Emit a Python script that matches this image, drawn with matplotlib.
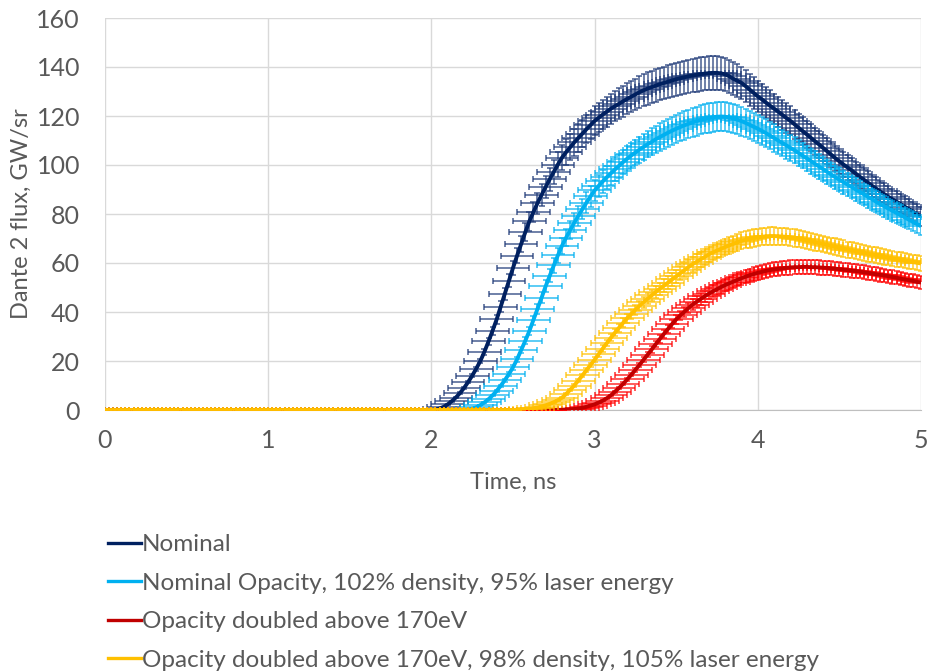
import numpy as np
import matplotlib

matplotlib.use('Agg')
import matplotlib.pyplot as plt
from matplotlib.lines import Line2D

plt.rcParams['font.family'] = ['Lato', 'DejaVu Sans']

# time grid of the simulation output, ns
time = np.round(np.arange(201) * 0.025, 3)

# Dante 2 flux, GW/sr (0.025 ns steps)
nominal = [0.0] * 80 + [
    0.0, 0.2, 0.6, 1.3, 2.3, 3.6, 5.1, 6.9, 9.0, 11.4, 14.0, 16.9,
    20.0, 23.8, 28.0, 32.4, 37.0, 42.2, 47.4, 52.7, 58.0, 63.0, 67.8, 72.5,
    77.0, 80.8, 84.4, 87.8, 91.0, 94.2, 97.2, 100.2, 103.0, 105.2, 107.2, 109.2,
    111.0, 112.8, 114.6, 116.3, 118.0, 119.3, 120.6, 121.8, 123.0, 124.0, 125.0, 126.0,
    127.0, 127.9, 128.8, 129.7, 130.5, 131.2, 131.8, 132.4, 133.0, 133.5, 134.0, 134.5,
    135.0, 135.4, 135.8, 136.2, 136.5, 136.8, 137.1, 137.3, 137.5, 137.6, 137.6, 137.4,
    137.0, 136.2, 135.2, 134.4, 133.5, 132.2, 130.8, 129.4, 128.0, 126.8, 125.5, 124.2,
    123.0, 121.8, 120.5, 119.2, 118.0, 116.6, 115.2, 113.8, 112.5, 111.1, 109.7, 108.4,
    107.0, 105.6, 104.2, 102.8, 101.5, 100.2, 99.0, 97.8, 96.5, 95.2, 94.0, 92.8,
    91.5, 90.4, 89.2, 88.1, 87.0, 86.0, 85.0, 84.0, 83.0, 82.0, 81.0, 80.0, 79.0]

nominal_opacity = [0.0] * 88 + [
    0.0, 0.2, 0.5, 1.1, 2.0, 3.1, 4.4, 6.0, 7.8, 9.9, 12.2, 14.7,
    17.4, 20.7, 24.4, 28.2, 32.2, 36.7, 41.2, 45.8, 50.5, 54.8, 59.0, 63.1,
    67.0, 70.3, 73.4, 76.4, 79.2, 82.0, 84.6, 87.2, 89.6, 91.5, 93.3, 95.0,
    96.6, 98.2, 99.7, 101.2, 102.6, 103.9, 105.1, 106.3, 107.4, 108.5, 109.5, 110.5,
    111.4, 112.3, 113.2, 114.0, 114.8, 115.5, 116.2, 116.8, 117.4, 117.9, 118.4, 118.8,
    119.2, 119.5, 119.7, 119.8, 119.7, 119.4, 119.0, 118.5, 117.9, 117.2, 116.4, 115.6,
    114.8, 113.9, 113.0, 112.0, 111.0, 110.0, 109.0, 108.0, 107.0, 106.0, 104.9, 103.8,
    102.7, 101.6, 100.5, 99.4, 98.3, 97.2, 96.1, 95.0, 94.0, 93.0, 92.0, 91.0,
    90.0, 89.0, 88.0, 87.0, 86.0, 85.0, 84.0, 83.1, 82.2, 81.3, 80.4, 79.5,
    78.6, 77.7, 76.8, 75.9, 75.0]

opacity_doubled = [0.0] * 110 + [
    0.0, 0.0, 0.1, 0.2, 0.3, 0.4, 0.6, 0.9, 1.3, 1.8, 2.3, 3.0,
    3.8, 4.8, 6.0, 7.5, 9.0, 10.7, 12.5, 14.4, 16.4, 18.4, 20.5, 22.6,
    24.7, 26.9, 29.0, 31.1, 33.1, 35.1, 37.0, 38.6, 40.1, 41.6, 43.0, 44.2,
    45.3, 46.4, 47.5, 48.4, 49.3, 50.2, 51.0, 51.7, 52.4, 53.1, 53.8, 54.4,
    55.0, 55.5, 56.0, 56.4, 56.8, 57.1, 57.4, 57.6, 57.8, 58.0, 58.2, 58.3,
    58.3, 58.4, 58.4, 58.3, 58.3, 58.2, 58.1, 58.0, 57.8, 57.7, 57.5, 57.3,
    57.1, 56.9, 56.7, 56.5, 56.2, 56.0, 55.7, 55.4, 55.2, 54.9, 54.6, 54.3,
    54.0, 53.6, 53.3, 53.0, 52.7, 52.3, 52.0]

opacity_doubled_adj = [0.0] * 100 + [
    0.0, 0.1, 0.2, 0.3, 0.5, 0.7, 1.0, 1.4, 1.9, 2.5, 3.2, 4.0,
    5.0, 6.5, 8.2, 10.0, 12.0, 14.1, 16.2, 18.4, 20.5, 22.8, 25.1, 27.3,
    29.5, 31.6, 33.6, 35.6, 37.5, 39.2, 40.9, 42.5, 44.0, 45.4, 46.8, 48.2,
    49.5, 50.8, 52.0, 53.3, 54.5, 55.8, 57.0, 58.3, 59.5, 60.5, 61.5, 62.5,
    63.5, 64.3, 65.1, 65.8, 66.5, 67.2, 67.8, 68.4, 69.0, 69.4, 69.8, 70.2,
    70.5, 70.7, 70.9, 71.0, 71.0, 70.9, 70.8, 70.7, 70.5, 70.2, 69.9, 69.6,
    69.3, 68.9, 68.5, 68.2, 67.8, 67.4, 67.0, 66.7, 66.3, 65.9, 65.5, 65.2,
    64.8, 64.5, 64.2, 63.8, 63.5, 63.2, 62.9, 62.5, 62.2, 61.9, 61.6, 61.3,
    61.0, 60.7, 60.4, 60.1, 59.8]

labels = ['Nominal',
          'Nominal Opacity, 102% density, 95% laser energy',
          'Opacity doubled above 170eV',
          'Opacity doubled above 170eV, 98% density, 105% laser energy']
series = [nominal, nominal_opacity, opacity_doubled, opacity_doubled_adj]

time_err = 0.1      # ns
flux_err = 0.05     # fraction of value

line_colors = ['#002060', '#00B0F0', '#C00000', '#FFC000']
bar_colors = ['#1F3A78', '#00B0F0', '#FF0000', '#FFC000']
text_color = '#595959'

fig = plt.figure(figsize=(9.31, 6.72), dpi=100)
ax = fig.add_axes([105 / 931, 1 - 410 / 672, 816 / 931, 392 / 672])

handles = []
for i, (vals, lc, bc) in enumerate(zip(series, line_colors, bar_colors)):
    vals = np.array(vals)
    ax.errorbar(time, vals, xerr=time_err, yerr=vals * flux_err,
                fmt='none', ecolor=bc, elinewidth=1.2,
                capsize=2.5, capthick=1.2, alpha=0.75,
                zorder=3 + 2 * i)
    ax.plot(time, vals, color=lc, lw=2.8, zorder=4 + 2 * i,
            solid_capstyle='butt')
    handles.append(Line2D([], [], color=lc, lw=2.4))

ax.set_xlim(0, 5)
ax.set_ylim(0, 160)
ax.set_xticks(range(0, 6))
ax.set_yticks(range(0, 161, 20))
ax.grid(True, color='#d9d9d9', lw=1)
ax.set_axisbelow(True)
for side in ['top', 'right', 'left']:
    ax.spines[side].set_visible(False)
ax.spines['bottom'].set_color('#bfbfbf')
ax.tick_params(length=0, labelsize=18, labelcolor=text_color)
ax.tick_params(axis='y', pad=18)
ax.tick_params(axis='x', pad=14)

ax.set_xlabel('Time, ns', fontsize=17, color=text_color, labelpad=14)
ax.set_ylabel('Dante 2 flux, GW/sr', fontsize=17, color=text_color, labelpad=3)

fig.legend(handles, labels, loc='upper left',
           bbox_to_anchor=(108 / 931, 1 - 534 / 672),
           frameon=False, fontsize=17.5, handlelength=1.35, handletextpad=0.05,
           labelspacing=0.72, borderpad=0, borderaxespad=0,
           labelcolor=text_color)

fig.savefig('out.png', dpi=100)
plt.close('all')
